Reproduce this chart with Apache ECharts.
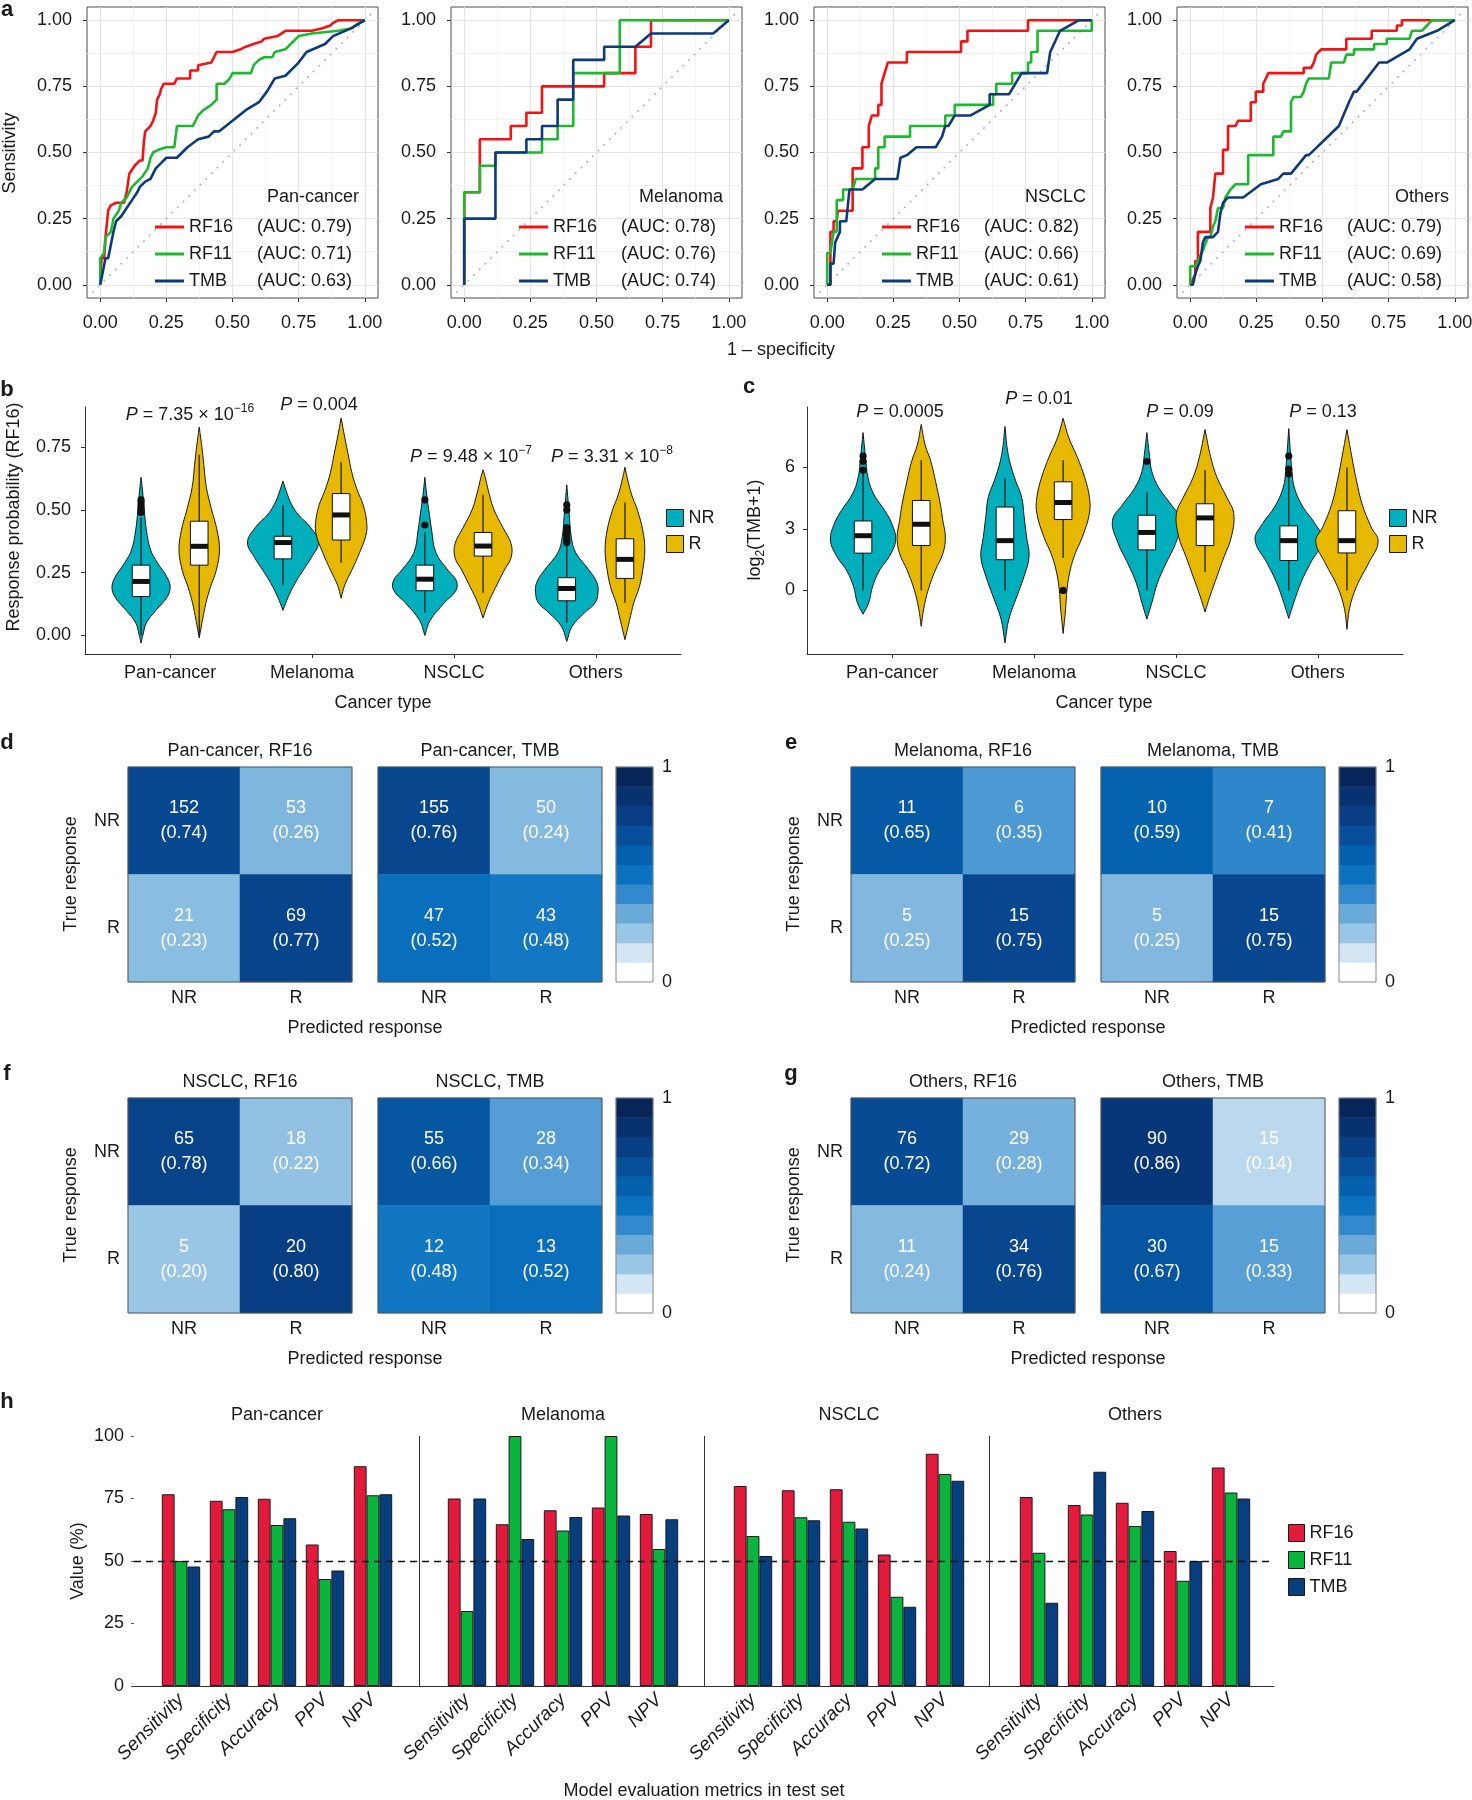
<!DOCTYPE html>
<html><head><meta charset="utf-8">
<script src="https://cdn.jsdelivr.net/npm/echarts/dist/echarts.min.js"></script>
<style>html,body{margin:0;padding:0;background:#fff}#c{width:1472px;height:1800px}</style>
</head><body><div id="c"></div>
<script>
// ---------------- DATA ----------------
const cancerTypes = ['Pan-cancer', 'Melanoma', 'NSCLC', 'Others'];
const models = ['RF16', 'RF11', 'TMB'];
const rocAUC = [[0.79, 0.71, 0.63], [0.78, 0.76, 0.74], [0.82, 0.66, 0.61], [0.79, 0.69, 0.58]];
const rocTicks = [0, 0.25, 0.5, 0.75, 1];
const rocMinorTicks = [0.125, 0.375, 0.625, 0.875];
const rocDiagonal = [[-0.03, -0.03], [1.04, 1.04]];

const rocRF16 = [
  [[0,0],[0.005,0.1],[0.015,0.1],[0.02,0.18],[0.03,0.28],[0.04,0.3],[0.06,0.31],[0.09,0.31],[0.1,0.35],[0.11,0.42],[0.13,0.45],[0.15,0.47],[0.16,0.47],[0.165,0.54],[0.17,0.58],[0.19,0.6],[0.2,0.62],[0.21,0.65],[0.215,0.7],[0.225,0.72],[0.23,0.74],[0.24,0.76],[0.28,0.76],[0.29,0.78],[0.34,0.78],[0.34,0.81],[0.37,0.81],[0.37,0.83],[0.42,0.84],[0.43,0.86],[0.44,0.88],[0.5,0.88],[0.53,0.89],[0.55,0.9],[0.58,0.91],[0.61,0.92],[0.62,0.93],[0.67,0.94],[0.7,0.96],[0.8,0.96],[0.84,0.97],[0.87,0.98],[0.88,0.99],[0.9,1],[1,1]],
  [[0,0],[0,0.35],[0.059,0.35],[0.059,0.55],[0.176,0.55],[0.176,0.6],[0.235,0.6],[0.235,0.65],[0.294,0.65],[0.294,0.75],[0.529,0.75],[0.529,0.8],[0.647,0.8],[0.647,0.9],[0.706,0.9],[0.706,1],[1,1]],
  [[0,0],[0.012,0],[0.012,0.2],[0.024,0.2],[0.024,0.24],[0.036,0.24],[0.04,0.28],[0.096,0.28],[0.096,0.44],[0.133,0.44],[0.133,0.52],[0.157,0.52],[0.157,0.6],[0.169,0.64],[0.193,0.64],[0.193,0.68],[0.205,0.68],[0.205,0.76],[0.217,0.8],[0.229,0.84],[0.301,0.84],[0.301,0.88],[0.506,0.88],[0.506,0.92],[0.53,0.92],[0.53,0.96],[0.759,0.96],[0.759,1],[1,1]],
  [[0,0],[0.019,0.04],[0.019,0.09],[0.029,0.09],[0.029,0.2],[0.076,0.2],[0.076,0.29],[0.086,0.33],[0.095,0.42],[0.124,0.42],[0.124,0.51],[0.143,0.51],[0.143,0.6],[0.171,0.6],[0.181,0.62],[0.229,0.62],[0.229,0.69],[0.248,0.69],[0.248,0.73],[0.276,0.73],[0.276,0.76],[0.286,0.78],[0.295,0.8],[0.429,0.8],[0.429,0.82],[0.457,0.82],[0.467,0.84],[0.476,0.87],[0.495,0.89],[0.59,0.89],[0.59,0.93],[0.686,0.93],[0.686,0.96],[0.781,0.96],[0.781,0.98],[0.8,0.98],[0.8,1],[1,1]]
];
const rocRF11 = [
  [[0,0],[0,0.1],[0.015,0.12],[0.02,0.18],[0.04,0.2],[0.05,0.25],[0.07,0.28],[0.08,0.31],[0.1,0.33],[0.12,0.37],[0.14,0.39],[0.16,0.41],[0.18,0.44],[0.19,0.48],[0.2,0.5],[0.22,0.51],[0.25,0.52],[0.28,0.52],[0.29,0.6],[0.35,0.6],[0.36,0.62],[0.37,0.64],[0.39,0.66],[0.42,0.68],[0.44,0.7],[0.44,0.76],[0.47,0.76],[0.49,0.78],[0.5,0.8],[0.57,0.8],[0.58,0.83],[0.6,0.85],[0.62,0.86],[0.65,0.86],[0.66,0.88],[0.7,0.89],[0.72,0.91],[0.75,0.94],[0.8,0.95],[0.9,0.96],[0.95,0.97],[0.98,0.99],[1,1]],
  [[0,0],[0,0.35],[0.059,0.35],[0.059,0.45],[0.118,0.45],[0.118,0.5],[0.294,0.5],[0.294,0.55],[0.353,0.55],[0.353,0.6],[0.412,0.6],[0.412,0.8],[0.588,0.8],[0.588,1],[1,1]],
  [[0,0],[0,0.12],[0.012,0.12],[0.024,0.2],[0.036,0.2],[0.036,0.32],[0.06,0.32],[0.06,0.36],[0.096,0.36],[0.108,0.4],[0.181,0.4],[0.181,0.44],[0.193,0.44],[0.193,0.52],[0.217,0.52],[0.217,0.56],[0.313,0.56],[0.313,0.6],[0.446,0.6],[0.446,0.64],[0.482,0.64],[0.482,0.68],[0.627,0.68],[0.627,0.72],[0.639,0.72],[0.639,0.76],[0.699,0.76],[0.699,0.8],[0.759,0.8],[0.759,0.84],[0.771,0.84],[0.771,0.88],[0.795,0.88],[0.795,0.96],[1,0.96],[1,1]],
  [[0,0],[0,0.07],[0.019,0.07],[0.029,0.09],[0.048,0.13],[0.067,0.18],[0.076,0.18],[0.086,0.22],[0.095,0.24],[0.105,0.29],[0.124,0.29],[0.133,0.33],[0.152,0.36],[0.171,0.38],[0.219,0.38],[0.219,0.49],[0.314,0.49],[0.314,0.56],[0.343,0.56],[0.352,0.58],[0.381,0.58],[0.381,0.69],[0.39,0.71],[0.419,0.71],[0.429,0.73],[0.438,0.76],[0.448,0.78],[0.524,0.78],[0.533,0.84],[0.581,0.84],[0.59,0.87],[0.619,0.87],[0.619,0.89],[0.695,0.89],[0.695,0.91],[0.743,0.91],[0.743,0.93],[0.829,0.93],[0.838,0.96],[0.876,0.96],[0.895,0.98],[0.914,1],[1,1]]
];
const rocTMB = [
  [[0,0],[0.01,0.05],[0.02,0.1],[0.03,0.1],[0.04,0.15],[0.05,0.2],[0.06,0.24],[0.08,0.26],[0.1,0.29],[0.12,0.32],[0.14,0.35],[0.15,0.37],[0.17,0.39],[0.19,0.4],[0.21,0.44],[0.23,0.46],[0.25,0.48],[0.29,0.48],[0.33,0.52],[0.37,0.55],[0.41,0.56],[0.43,0.58],[0.45,0.58],[0.5,0.62],[0.55,0.66],[0.6,0.69],[0.63,0.73],[0.66,0.78],[0.7,0.79],[0.75,0.84],[0.78,0.88],[0.85,0.91],[0.88,0.94],[0.95,0.97],[1,1]],
  [[0,0],[0,0.25],[0.118,0.25],[0.118,0.5],[0.235,0.5],[0.235,0.55],[0.294,0.55],[0.294,0.6],[0.353,0.6],[0.353,0.7],[0.412,0.7],[0.412,0.85],[0.529,0.85],[0.529,0.9],[0.647,0.9],[0.706,0.95],[0.941,0.95],[1,1]],
  [[0,0],[0.012,0],[0.012,0.08],[0.024,0.08],[0.03,0.16],[0.048,0.2],[0.048,0.24],[0.072,0.24],[0.084,0.36],[0.133,0.36],[0.181,0.4],[0.265,0.4],[0.277,0.48],[0.301,0.49],[0.337,0.52],[0.41,0.52],[0.434,0.56],[0.446,0.6],[0.458,0.6],[0.482,0.64],[0.542,0.64],[0.614,0.68],[0.614,0.72],[0.687,0.72],[0.735,0.8],[0.831,0.8],[0.843,0.88],[0.88,0.96],[0.952,1],[1,1]],
  [[0,0],[0.01,0],[0.019,0.04],[0.029,0.07],[0.038,0.09],[0.048,0.16],[0.057,0.18],[0.086,0.18],[0.105,0.2],[0.114,0.27],[0.124,0.31],[0.143,0.33],[0.2,0.33],[0.267,0.38],[0.333,0.4],[0.352,0.42],[0.381,0.42],[0.438,0.49],[0.448,0.49],[0.562,0.6],[0.6,0.69],[0.619,0.73],[0.629,0.73],[0.714,0.84],[0.743,0.84],[0.829,0.89],[0.857,0.93],[0.933,0.96],[1,1]]
];

// Panel b: violin profiles [value, relative half-width], boxes [min,q1,median,q3,max], outliers
const bTicks = [0, 0.25, 0.5, 0.75];
const bNRProfile = [
  [[-0.03,0],[0.0,0.05],[0.05,0.15],[0.1,0.42],[0.15,0.72],[0.19,0.82],[0.23,0.74],[0.29,0.46],[0.34,0.27],[0.42,0.15],[0.5,0.09],[0.58,0.04],[0.63,0]],
  [[0.1,0],[0.154,0.15],[0.21,0.35],[0.26,0.57],[0.31,0.8],[0.37,1.0],[0.43,0.78],[0.48,0.44],[0.52,0.25],[0.56,0.13],[0.615,0]],
  [[0.0,0],[0.06,0.15],[0.13,0.55],[0.18,0.88],[0.22,0.88],[0.26,0.65],[0.33,0.31],[0.42,0.19],[0.48,0.13],[0.55,0.06],[0.63,0]],
  [[-0.024,0],[0.036,0.15],[0.09,0.5],[0.13,0.8],[0.17,0.88],[0.21,0.85],[0.26,0.63],[0.33,0.25],[0.39,0.13],[0.5,0.06],[0.6,0]]
];
const bRProfile = [
  [[-0.01,0],[0.06,0.09],[0.13,0.19],[0.19,0.31],[0.26,0.48],[0.34,0.57],[0.42,0.5],[0.5,0.35],[0.59,0.2],[0.68,0.13],[0.75,0.075],[0.83,0]],
  [[0.148,0],[0.2,0.1],[0.26,0.3],[0.33,0.52],[0.4,0.7],[0.45,0.72],[0.52,0.62],[0.58,0.45],[0.65,0.3],[0.72,0.2],[0.79,0.1],[0.866,0]],
  [[0.07,0],[0.13,0.15],[0.19,0.35],[0.26,0.6],[0.31,0.79],[0.365,0.79],[0.43,0.56],[0.5,0.31],[0.56,0.18],[0.63,0.06],[0.66,0]],
  [[-0.017,0],[0.06,0.13],[0.13,0.25],[0.19,0.4],[0.26,0.5],[0.34,0.56],[0.42,0.5],[0.5,0.35],[0.56,0.19],[0.63,0.06],[0.67,0]]
];
const bNRBox = [[0.0,0.155,0.215,0.28,0.47],[0.2,0.305,0.37,0.395,0.52],[0.09,0.178,0.224,0.28,0.41],[0.05,0.138,0.187,0.23,0.36]];
const bRBox = [[0.0,0.28,0.355,0.455,0.72],[0.29,0.38,0.48,0.565,0.69],[0.17,0.316,0.356,0.41,0.56],[0.13,0.227,0.303,0.385,0.53]];
const bNROutliers = [[0.49,0.5,0.515,0.53,0.54],[],[0.44,0.54],[0.37,0.38,0.39,0.4,0.41,0.42,0.43,0.5,0.52]];
const bROutliers = [[],[],[],[]];
const bPValues = ['{i|P} = 7.35 × 10{s|−16}', '{i|P} = 0.004', '{i|P} = 9.48 × 10{s|−7}', '{i|P} = 3.31 × 10{s|−8}'];

// Panel c
const cTicks = [0, 3, 6];
const cNRProfile = [
  [[-1.16,0],[-0.6,0.16],[0.2,0.27],[1.0,0.47],[1.66,0.74],[2.46,0.92],[3.26,0.81],[3.9,0.61],[4.7,0.3],[5.5,0.14],[6.5,0.07],[7.7,0]],
  [[-2.56,0],[-1.4,0.11],[-0.27,0.34],[0.7,0.54],[1.66,0.68],[2.6,0.61],[3.6,0.54],[4.55,0.47],[5.5,0.27],[6.64,0.09],[8.0,0]],
  [[-1.4,0],[-0.6,0.14],[0.37,0.3],[1.33,0.54],[2.3,0.81],[3.4,0.97],[4.2,0.68],[5.0,0.34],[5.8,0.14],[6.64,0.07],[7.7,0]],
  [[-1.37,0],[-0.6,0.14],[0.37,0.34],[1.33,0.61],[2.46,0.95],[3.26,0.74],[4.07,0.4],[5.0,0.16],[5.8,0.09],[7.9,0]]
];
const cRProfile = [
  [[-1.75,0],[-0.9,0.07],[0.05,0.2],[1.0,0.4],[1.8,0.61],[2.6,0.68],[3.4,0.61],[4.2,0.54],[5.35,0.4],[6.3,0.27],[7.1,0.11],[8.1,0]],
  [[-2.1,0],[-0.9,0.07],[0.05,0.11],[1.0,0.2],[1.8,0.34],[2.6,0.54],[3.75,0.74],[4.55,0.74],[5.5,0.61],[6.5,0.4],[7.45,0.16],[8.4,0]],
  [[-1.05,0],[-0.27,0.14],[0.7,0.34],[1.66,0.54],[2.6,0.74],[3.75,0.81],[4.55,0.61],[5.5,0.34],[6.5,0.16],[7.85,0]],
  [[-1.9,0],[-0.9,0.07],[0.2,0.27],[1.33,0.61],[2.38,0.88],[3.1,0.68],[4.2,0.43],[5.35,0.27],[6.5,0.14],[7.85,0]]
];
const cNRBox = [[0,1.82,2.67,3.39,5.84],[0,1.5,2.43,4.07,5.48],[0,1.98,2.83,3.67,4.79],[0,1.46,2.43,3.15,5.51]];
const cRBox = [[0,2.19,3.23,4.39,6.35],[1.58,3.46,4.29,5.3,6.35],[0.9,2.19,3.54,4.23,5.88],[0,1.83,2.43,3.89,6.0]];
const cNROutliers = [[5.87,6.29,6.56],[],[6.29],[5.68,5.92,6.56]];
const cROutliers = [[],[0],[],[]];
const cPValues = ['{i|P} = 0.0005', '{i|P} = 0.01', '{i|P} = 0.09', '{i|P} = 0.13'];

// Confusion matrices: [NR->NR, NR->R, R->NR, R->R]
const cmLabels = ['NR', 'R'];
const cmPanCancerRF16 = [152, 53, 21, 69];
const cmPanCancerTMB = [155, 50, 47, 43];
const cmMelanomaRF16 = [11, 6, 5, 15];
const cmMelanomaTMB = [10, 7, 5, 15];
const cmNSCLCRF16 = [65, 18, 5, 20];
const cmNSCLCTMB = [55, 28, 12, 13];
const cmOthersRF16 = [76, 29, 11, 34];
const cmOthersTMB = [90, 15, 30, 15];
const colorbarSteps = [0, 0.1, 0.2, 0.3, 0.4, 0.5, 0.6, 0.7, 0.8, 0.9, 1.0];

// Panel h
const metrics = ['Sensitivity', 'Specificity', 'Accuracy', 'PPV', 'NPV'];
const barRF16 = [[76.7,74.1,74.9,56.6,87.9],[75,64.7,70.3,71.4,68.8],[80,78.3,78.7,52.6,92.9],[75.6,72.4,73.3,54.0,87.4]];
const barRF11 = [[50,70.7,64.4,42.8,76.3],[30,100,62.2,100,54.8],[60,67.5,65.7,35.7,84.8],[53.3,68.6,64.0,42.1,77.4]];
const barTMB = [[47.8,75.6,67.1,46.2,76.7],[75,58.8,67.6,68.2,66.7],[52,66.3,63.0,31.7,82.1],[33.3,85.7,70.0,50.0,75.0]];

// ---------------- STYLE ----------------
const FONT = "'Liberation Sans', Arial, Helvetica, sans-serif";
const TXT = '#1a1a1a';
const ROC_COLORS = ['#F51212', '#1DB82E', '#0C3A7A'];
const BAR_COLORS = ['#E31A3C', '#09B53C', '#063E7E'];
const NR_COLOR = '#00AFBB', R_COLOR = '#E7B800';
const BLUES = ['#ffffff','#d4e6f4','#9ac6e6','#6aaad9','#3389cd','#0a72c0','#0561ae','#074f99','#083f84','#083170','#08255a'];
const FS = 18;

const grid = [], xAxis = [], yAxis = [], series = [], legend = [], graphic = [], heatIdx = [];
const addGrid = g => { grid.push(Object.assign({outerBoundsMode: 'none', containLabel: false}, g)); return grid.length - 1; };
const addX = a => { xAxis.push(a); return xAxis.length - 1; };
const addY = a => { yAxis.push(a); return yAxis.length - 1; };
function addText(x, y, text, o) {
  o = o || {};
  const st = {text, fontSize: o.size || FS, fontFamily: FONT, fill: o.color || TXT,
    fontWeight: o.bold ? 'bold' : 'normal', fontStyle: o.italic ? 'italic' : 'normal',
    align: o.align || 'center', verticalAlign: 'middle'};
  if (o.rich) { st.rich = o.rich; st.lineHeight = o.lineHeight || 24; }
  graphic.push({type: 'text', x, y, rotation: o.rot || 0, z: 50, silent: true, style: st});
}
const labelStyle = (extra) => Object.assign({fontSize: FS, color: TXT, fontFamily: FONT}, extra || {});

// ---------------- PANEL a : ROC ----------------
const rocLeft = [87, 451, 814, 1177];
const rocSets = [rocRF16, rocRF11, rocTMB];
for (let i = 0; i < 4; i++) {
  const g = addGrid({left: rocLeft[i], top: 7, width: 291, height: 291, show: true, borderColor: '#4d4d4d', borderWidth: 1, backgroundColor: 'transparent'});
  const xMaj = addX({gridIndex: g, type: 'value', min: -0.05, max: 1.05, position: 'bottom',
    axisLine: {show: false, onZero: false}, axisTick: {show: true, customValues: rocTicks, length: 4, lineStyle: {color: '#333'}},
    axisLabel: labelStyle({customValues: rocTicks, formatter: v => v.toFixed(2), margin: 16}),
    splitLine: {show: true, lineStyle: {color: '#e4e4e4', width: 1.2}}});
  addX({gridIndex: g, type: 'value', min: -0.05, max: 1.05, position: 'top',
    axisLine: {show: false, onZero: false}, axisTick: {show: false, customValues: rocMinorTicks}, axisLabel: {show: false, customValues: rocMinorTicks},
    splitLine: {show: true, lineStyle: {color: '#f1f1f1', width: 0.8}}});
  const yMaj = addY({gridIndex: g, type: 'value', min: -0.05, max: 1.05, position: 'left',
    axisLine: {show: false, onZero: false}, axisTick: {show: true, customValues: rocTicks, length: 4, lineStyle: {color: '#333'}},
    axisLabel: labelStyle({customValues: rocTicks, formatter: v => v.toFixed(2), margin: 15}),
    splitLine: {show: true, lineStyle: {color: '#e4e4e4', width: 1.2}}});
  addY({gridIndex: g, type: 'value', min: -0.05, max: 1.05, position: 'right',
    axisLine: {show: false, onZero: false}, axisTick: {show: false, customValues: rocMinorTicks}, axisLabel: {show: false, customValues: rocMinorTicks},
    splitLine: {show: true, lineStyle: {color: '#f1f1f1', width: 0.8}}});
  series.push({type: 'line', name: 'diag', xAxisIndex: xMaj, yAxisIndex: yMaj, data: rocDiagonal, symbol: 'none', silent: true,
    lineStyle: {color: '#b5b5b5', width: 1.6, type: [2, 6]}, z: 1});
  models.forEach((m, k) => {
    series.push({type: 'line', name: m, xAxisIndex: xMaj, yAxisIndex: yMaj, data: rocSets[k][i], symbol: 'none', showSymbol: false,
      silent: true, color: ROC_COLORS[k], itemStyle: {color: ROC_COLORS[k]}, lineStyle: {color: ROC_COLORS[k], width: 2.6}, z: 2 + k});
  });
  legend.push({left: rocLeft[i] + 68, top: 218, orient: 'vertical', padding: 0, itemWidth: 29, itemHeight: 3, itemGap: 9,
    icon: 'rect', selectedMode: false,
    data: models.map((m, k) => ({name: m, icon: 'rect', itemStyle: {color: ROC_COLORS[k], borderWidth: 0}})),
    formatter: n => '{n|' + n + '}(AUC: ' + rocAUC[i][models.indexOf(n)].toFixed(2) + ')',
    textStyle: {fontSize: FS, color: TXT, fontFamily: FONT, lineHeight: 14, rich: {n: {width: 68, fontSize: FS, lineHeight: 14, fontFamily: FONT, color: TXT}}}});
  addText(rocLeft[i] + 272, 197, cancerTypes[i], {align: 'right'});
}
addText(7, 10, 'a', {bold: true, size: 22});
addText(10, 153, 'Sensitivity', {rot: Math.PI / 2});
addText(781, 350, '1 – specificity');

// ---------------- PANELS b, c : violins ----------------
const catPos = [1, 2, 3, 4];
const VW = 0.25, BOXW = 0.062, DODGE = 0.205;
function makeViolin(profiles, boxes, outliers, off, color) {
  return function (params, api) {
    const i = params.dataIndex;
    const xc = api.value(0) + off;
    const prof = profiles[i];
    const pts = [];
    prof.forEach(p => pts.push(api.coord([xc + p[1] * VW, p[0]])));
    for (let k = prof.length - 1; k >= 0; k--) pts.push(api.coord([xc - prof[k][1] * VW, prof[k][0]]));
    const b = boxes[i];
    const pTL = api.coord([xc - BOXW, b[3]]), pBR = api.coord([xc + BOXW, b[1]]);
    const pMin = api.coord([xc, b[0]]), pMax = api.coord([xc, b[4]]);
    const pMed = api.coord([xc - BOXW, b[2]]);
    const children = [
      {type: 'polygon', shape: {points: pts, smooth: 0.4}, style: {fill: color, stroke: '#1a1a1a', lineWidth: 1}},
      {type: 'line', shape: {x1: pMin[0], y1: pMin[1], x2: pMax[0], y2: pMax[1]}, style: {stroke: '#111', lineWidth: 1.2}},
      {type: 'rect', shape: {x: pTL[0], y: pTL[1], width: pBR[0] - pTL[0], height: pBR[1] - pTL[1]}, style: {fill: '#fff', stroke: '#111', lineWidth: 1}},
      {type: 'rect', shape: {x: pMed[0], y: pMed[1] - 2.5, width: pBR[0] - pTL[0], height: 5}, style: {fill: '#111'}}
    ];
    outliers[i].forEach(o => {
      const p = api.coord([xc, o]);
      children.push({type: 'circle', shape: {cx: p[0], cy: p[1], r: 3.6}, style: {fill: '#111'}});
    });
    return {type: 'group', children};
  };
}
function violinPanel(left, ymin, ymax, ticks, fmt, ymargin, nrP, rP, nrB, rB, nrO, rO) {
  const g = addGrid({left, top: 407, width: 596, height: 247});
  const xi = addX({gridIndex: g, type: 'value', min: 0.4, max: 4.6,
    axisLine: {show: true, onZero: false, lineStyle: {color: '#333', width: 1}},
    axisTick: {show: true, customValues: catPos, length: 4, lineStyle: {color: '#333'}},
    axisLabel: labelStyle({customValues: catPos, formatter: v => cancerTypes[Math.round(v) - 1], margin: 10}),
    splitLine: {show: false}});
  const yi = addY({gridIndex: g, type: 'value', min: ymin, max: ymax,
    axisLine: {show: true, onZero: false, lineStyle: {color: '#333', width: 1}},
    axisTick: {show: true, customValues: ticks, length: 4, lineStyle: {color: '#333'}},
    axisLabel: labelStyle({customValues: ticks, formatter: fmt, margin: ymargin}),
    splitLine: {show: false}});
  series.push({type: 'custom', name: 'NR', xAxisIndex: xi, yAxisIndex: yi, itemStyle: {color: NR_COLOR}, silent: true, clip: false,
    data: catPos.map(p => [p, 0]), renderItem: makeViolin(nrP, nrB, nrO, -DODGE, NR_COLOR)});
  series.push({type: 'custom', name: 'R', xAxisIndex: xi, yAxisIndex: yi, itemStyle: {color: R_COLOR}, silent: true, clip: false,
    data: catPos.map(p => [p, 0]), renderItem: makeViolin(rP, rB, rO, DODGE, R_COLOR)});
}
violinPanel(85, -0.074, 0.91, bTicks, v => v.toFixed(2), 14, bNRProfile, bRProfile, bNRBox, bRBox, bNROutliers, bROutliers);
violinPanel(807, -3.1, 8.95, cTicks, v => String(v), 12, cNRProfile, cRProfile, cNRBox, cRBox, cNROutliers, cROutliers);
[666, 1389].forEach(lx => legend.push({left: lx, top: 509, orient: 'vertical', padding: 0, itemWidth: 17, itemHeight: 17, itemGap: 8,
  icon: 'rect', selectedMode: false, data: ['NR', 'R'], itemStyle: {borderColor: '#1a1a1a', borderWidth: 1},
  textStyle: {fontSize: FS, color: TXT, fontFamily: FONT}}));
const pRich = {
  i: {fontStyle: 'italic', fontSize: FS, fontFamily: FONT, lineHeight: 24},
  s: {fontSize: 12, fontFamily: FONT, lineHeight: 12, verticalAlign: 'top'}
};
[[190, 415], [319, 405], [471, 457], [612, 457]].forEach((p, k) => addText(p[0], p[1], bPValues[k], {rich: pRich}));
[[900, 412], [1039, 399], [1180, 412], [1323, 412]].forEach((p, k) => addText(p[0], p[1], cPValues[k], {rich: pRich}));
addText(7, 390, 'b', {bold: true, size: 22});
addText(749, 387, 'c', {bold: true, size: 22});
addText(14, 517, 'Response probability (RF16)', {rot: Math.PI / 2});
addText(755, 530, 'log{d|2}(TMB+1)', {rot: Math.PI / 2, rich: {d: {fontSize: 12, fontFamily: FONT, lineHeight: 12, verticalAlign: 'bottom'}}});
addText(383, 703, 'Cancer type');
addText(1104, 703, 'Cancer type');

// ---------------- PANELS d-g : confusion matrices ----------------
function addMatrix(left, top, counts, showY) {
  const g = addGrid({left, top, width: 224, height: 215, show: true, borderColor: '#555', borderWidth: 1, z: 5, backgroundColor: 'transparent'});
  const xi = addX({gridIndex: g, type: 'category', data: cmLabels, axisLine: {show: false}, axisTick: {show: false},
    axisLabel: labelStyle({margin: 7}), splitLine: {show: false}});
  const yi = addY({gridIndex: g, type: 'category', data: cmLabels.slice().reverse(), axisLine: {show: false}, axisTick: {show: false},
    axisLabel: labelStyle({show: showY, margin: 8}), splitLine: {show: false}});
  const rowNR = counts[0] + counts[1], rowR = counts[2] + counts[3];
  const data = [[0, 1, counts[0] / rowNR, counts[0]], [1, 1, counts[1] / rowNR, counts[1]],
                [0, 0, counts[2] / rowR, counts[2]], [1, 0, counts[3] / rowR, counts[3]]];
  heatIdx.push(series.length);
  series.push({type: 'heatmap', xAxisIndex: xi, yAxisIndex: yi, data, silent: true,
    label: {show: true, color: '#fff', fontSize: FS, lineHeight: 25, fontFamily: FONT,
      formatter: p => p.value[3] + '\n(' + p.value[2].toFixed(2) + ')'}});
}
function addColorbar(left, top) {
  const g = addGrid({left, top, width: 37, height: 215, show: true, borderColor: '#888', borderWidth: 1, z: 5, backgroundColor: 'transparent'});
  const xi = addX({gridIndex: g, type: 'category', data: [''], show: false});
  const yi = addY({gridIndex: g, type: 'category', data: colorbarSteps.map(String), show: false});
  addY({gridIndex: g, type: 'value', min: 0, max: 1, position: 'right', axisLine: {show: false}, axisTick: {show: false},
    splitLine: {show: false}, axisLabel: labelStyle({customValues: [0, 1], formatter: v => String(v), margin: 9})});
  heatIdx.push(series.length);
  series.push({type: 'heatmap', xAxisIndex: xi, yAxisIndex: yi, silent: true, data: colorbarSteps.map((v, k) => [0, k, v])});
}
const cmPanels = [
  {letter: 'd', col: 0, top: 767, name: 'Pan-cancer', rf: cmPanCancerRF16, tmb: cmPanCancerTMB},
  {letter: 'e', col: 1, top: 767, name: 'Melanoma', rf: cmMelanomaRF16, tmb: cmMelanomaTMB},
  {letter: 'f', col: 0, top: 1098, name: 'NSCLC', rf: cmNSCLCRF16, tmb: cmNSCLCTMB},
  {letter: 'g', col: 1, top: 1098, name: 'Others', rf: cmOthersRF16, tmb: cmOthersTMB}
];
const cmLeft = [[128, 378, 616], [851, 1101, 1339]];
cmPanels.forEach(p => {
  const L = cmLeft[p.col];
  addMatrix(L[0], p.top, p.rf, true);
  addMatrix(L[1], p.top, p.tmb, false);
  addColorbar(L[2], p.top);
  addText(L[0] + 112, p.top - 16, p.name + ', RF16');
  addText(L[1] + 112, p.top - 16, p.name + ', TMB');
  addText(L[0] - 57, p.top + 107, 'True response', {rot: Math.PI / 2});
  addText((L[0] + L[1] + 224) / 2, p.top + 261, 'Predicted response');
  addText(p.col === 0 ? 7 : 791, p.top - 24, p.letter, {bold: true, size: 22});
});

// ---------------- PANEL h : bars ----------------
const gBg = addGrid({left: 134, top: 1436, width: 1140, height: 250});
const xBg = addX({gridIndex: gBg, type: 'value', min: 0, max: 4, axisLine: {show: true, onZero: false, lineStyle: {color: '#333', width: 1}},
  axisTick: {show: false}, axisLabel: {show: false}, splitLine: {show: false}});
const yBg = addY({gridIndex: gBg, type: 'value', min: 0, max: 100, interval: 25, axisLine: {show: false, onZero: false},
  axisTick: {show: true, length: 3, lineStyle: {color: '#555'}}, axisLabel: labelStyle({margin: 10}), splitLine: {show: false}});
series.push({type: 'line', name: 'frame', xAxisIndex: xBg, yAxisIndex: yBg, data: [[0, 0], [4, 0]], symbol: 'none', silent: true,
  lineStyle: {opacity: 0},
  markLine: {silent: true, symbol: 'none', label: {show: false}, animation: false,
    data: [{yAxis: 50, lineStyle: {type: [7, 5], color: '#111', width: 1.3}},
           {xAxis: 1, lineStyle: {type: 'solid', color: '#333', width: 1}},
           {xAxis: 2, lineStyle: {type: 'solid', color: '#333', width: 1}},
           {xAxis: 3, lineStyle: {type: 'solid', color: '#333', width: 1}}]}});
const barSets = [barRF16, barRF11, barTMB];
for (let f = 0; f < 4; f++) {
  const g = addGrid({left: 157 + 286 * f, top: 1436, width: 240, height: 250});
  const xi = addX({gridIndex: g, type: 'category', data: metrics, axisLine: {show: false}, axisTick: {show: false},
    axisLabel: labelStyle({rotate: 45, fontStyle: 'italic', fontSize: 19, margin: 11, interval: 0}), splitLine: {show: false}});
  const yi = addY({gridIndex: g, type: 'value', min: 0, max: 100, show: false});
  models.forEach((m, k) => series.push({type: 'bar', name: m, xAxisIndex: xi, yAxisIndex: yi, data: barSets[k][f],
    barWidth: 12.8, barGap: '0%', silent: true,
    itemStyle: {color: BAR_COLORS[k], borderColor: '#1a1a1a', borderWidth: 1}}));
  addText(277 + 286 * f, 1415, cancerTypes[f]);
}
legend.push({left: 1288, top: 1524, orient: 'vertical', padding: 0, itemWidth: 16, itemHeight: 17, itemGap: 9, selectedMode: false,
  data: models.map((m, k) => ({name: m, icon: 'rect', itemStyle: {color: BAR_COLORS[k], borderColor: '#1a1a1a', borderWidth: 1}})),
  textStyle: {fontSize: FS, color: TXT, fontFamily: FONT}});
addText(7, 1402, 'h', {bold: true, size: 22});
addText(78, 1561, 'Value (%)', {rot: Math.PI / 2});
addText(704, 1791, 'Model evaluation metrics in test set');

const chart = echarts.init(document.getElementById('c'), null, {renderer: 'canvas'});
chart.setOption({
  animation: false,
  backgroundColor: '#ffffff',
  textStyle: {fontFamily: FONT},
  grid, xAxis, yAxis, series, legend, graphic,
  visualMap: [{type: 'continuous', show: false, min: 0, max: 1, dimension: 2, seriesIndex: heatIdx, inRange: {color: BLUES}}]
});
</script>
</body></html>
